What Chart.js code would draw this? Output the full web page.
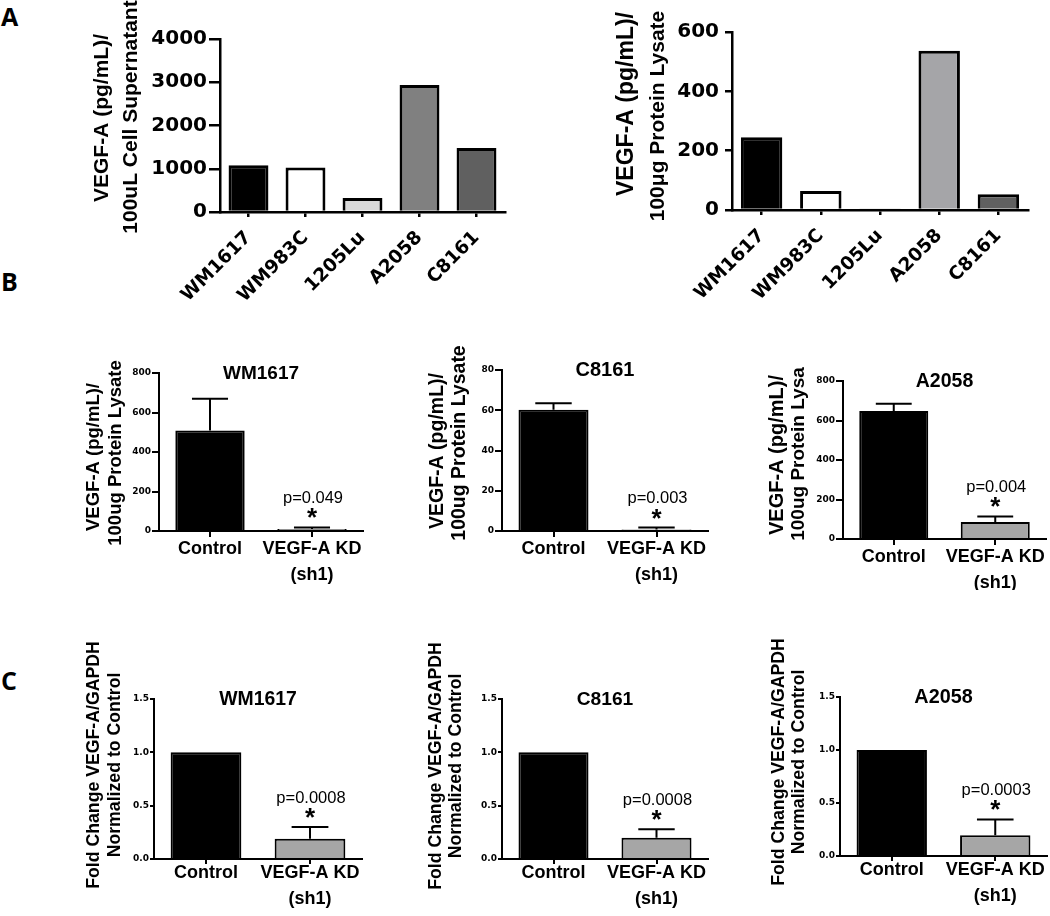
<!DOCTYPE html>
<html>
<head>
<meta charset="utf-8">
<script src="https://cdn.jsdelivr.net/npm/chart.js@4.4.1/dist/chart.umd.min.js"></script>
<style>
  body { margin: 0; width: 1050px; height: 916px; background: #fff; position: relative; overflow: hidden; }
  .box { position: absolute; }
  .box canvas { display: block; }
  .letter { position: absolute; font: 700 25px/25px "Open Sans", sans-serif; color: #000; }
</style>
</head>
<body>
<div class="letter" style="left:1px;top:4px">A</div>
<div class="letter" style="left:1px;top:269px">B</div>
<div class="letter" style="left:1px;top:668px">C</div>

<script>
// Panel A: VEGF-A secreted / in lysate for the five cell lines
const cellLines = ['WM1617', 'WM983C', '1205Lu', 'A2058', 'C8161'];
const supernatantValues = [1080, 1030, 325, 2935, 1480];
const lysateValues = [245, 64, 5, 537, 53];
const supernatantTicks = [0, 1000, 2000, 3000, 4000];
const lysateTicks = [0, 200, 400, 600];

// Panels B and C: control vs knockdown
const groups = ['Control', ['VEGF-A KD', '(sh1)']];
const wm1617Protein = [509, 10];
const wm1617ProteinErr = [161, 8];
const c8161Protein = [60.3, 0.8];
const c8161ProteinErr = [3.2, 0.9];
const a2058Protein = [648, 86];
const a2058ProteinErr = [37, 28];
const proteinTicks800 = [0, 200, 400, 600, 800];
const proteinTicks80 = [0, 20, 40, 60, 80];
const proteinPValues = ['p=0.049', 'p=0.003', 'p=0.004'];

const wm1617Fold = [1.0, 0.19];
const wm1617FoldErr = [0, 0.11];
const c8161Fold = [1.0, 0.2];
const c8161FoldErr = [0, 0.08];
const a2058Fold = [1.0, 0.195];
const a2058FoldErr = [0, 0.15];
const foldTicks = [0, 0.5, 1.0, 1.5];
const foldPValues = ['p=0.0008', 'p=0.0008', 'p=0.0003'];

Chart.defaults.font.family = '"Liberation Sans", Arial, sans-serif';
Chart.defaults.color = '#000';

// text centred on its real glyph box
function centerText(ctx, text, x, cy, font) {
  ctx.font = font;
  const m = ctx.measureText(text);
  ctx.textAlign = 'center';
  ctx.textBaseline = 'alphabetic';
  ctx.fillText(text, x, cy + (m.actualBoundingBoxAscent - m.actualBoundingBoxDescent) / 2);
}

const marks = {
  id: 'marks',
  afterDatasetsDraw(chart, args, o) {
    const ctx = chart.ctx;
    const area = chart.chartArea;
    const y = chart.scales.y;
    const bars = chart.getDatasetMeta(0).data;
    const vals = chart.data.datasets[0].data;
    ctx.save();
    ctx.fillStyle = '#000';
    ctx.strokeStyle = '#000';

    if (o.errors) {
      ctx.lineWidth = 2;
      o.errors.forEach((e, i) => {
        if (!e) return;
        const b = bars[i];
        const top = y.getPixelForValue(vals[i] + e);
        const hw = b.width * 0.26;
        ctx.beginPath();
        ctx.moveTo(b.x, b.y);
        ctx.lineTo(b.x, top);
        ctx.moveTo(b.x - hw, top);
        ctx.lineTo(b.x + hw, top);
        ctx.stroke();
      });
      // p value and asterisk over the knockdown bar
      const kd = bars[1];
      const top = y.getPixelForValue(vals[1] + o.errors[1]);
      centerText(ctx, o.p, kd.x + 1, top - 29, '16.5px "Liberation Sans"');
      centerText(ctx, '*', kd.x, top - 14, 'bold 26px "Liberation Sans"');
    }

    if (o.title) {
      centerText(ctx, o.title, (area.left + area.right) / 2, area.top - 1, 'bold ' + o.titleSize + 'px "Liberation Sans"');
    }

    (o.yTitle || []).forEach(t => {
      ctx.save();
      ctx.translate(t.x - o.ox, t.cy - o.oy);
      ctx.rotate(-Math.PI / 2);
      ctx.font = 'bold ' + t.size + 'px "Liberation Sans"';
      ctx.textAlign = 'center';
      ctx.textBaseline = 'middle';
      ctx.fillText(t.text, 0, 0);
      ctx.restore();
    });
    ctx.restore();
  }
};

function panel(p) {
  const [bx, by, bw, bh] = p.box;
  const [l, t, r, b] = p.area;
  const div = document.createElement('div');
  div.className = 'box';
  div.style.left = bx + 'px';
  div.style.top = by + 'px';
  div.style.width = bw + 'px';
  div.style.height = bh + 'px';
  const cv = document.createElement('canvas');
  div.appendChild(cv);
  document.body.appendChild(div);

  new Chart(cv, {
    type: 'bar',
    data: {
      labels: p.labels,
      datasets: [{
        data: p.values,
        backgroundColor: p.colors,
        borderColor: '#000',
        borderWidth: p.barBorder,
        borderSkipped: 'start',
        barPercentage: p.barPct,
        categoryPercentage: 1
      }]
    },
    options: {
      responsive: true,
      maintainAspectRatio: false,
      animation: false,
      devicePixelRatio: 1,
      layout: { padding: { left: 0, top: t - by, right: bx + bw - r, bottom: 0 } },
      plugins: {
        legend: { display: false },
        tooltip: { enabled: false },
        marks: {
          errors: p.errors, p: p.p, title: p.title, titleSize: p.titleSize,
          yTitle: p.yTitle, ox: bx, oy: by
        }
      },
      scales: {
        x: {
          grid: { drawOnChartArea: false, drawTicks: true, tickLength: p.xLen, color: '#000', lineWidth: p.axisW, offset: false },
          border: { display: true, color: '#000', width: p.axisW },
          ticks: { color: '#000', font: p.xFont, padding: p.xPad, minRotation: p.rot, maxRotation: p.rot, autoSkip: false },
          afterFit: s => { s.height = by + bh - b; s.paddingLeft = 0; s.paddingRight = 0; }
        },
        y: {
          min: p.ticks[0],
          max: p.ticks[p.ticks.length - 1],
          afterBuildTicks: s => { s.ticks = p.ticks.map(v => ({ value: v })); },
          grid: { drawOnChartArea: false, drawTicks: true, tickLength: p.yLen, color: '#000', lineWidth: p.axisW },
          border: { display: true, color: '#000', width: p.axisW },
          ticks: { color: '#000', font: p.yFont, padding: p.yPad, callback: p.fmt || (v => v) },
          afterFit: s => { s.width = l - bx; s.paddingTop = 0; s.paddingBottom = 0; }
        }
      }
    },
    plugins: [marks]
  });
}

const aStyle = {
  yFont: { family: 'DejaVu Sans', weight: 'bold', size: 20 },
  xFont: { family: 'DejaVu Sans', weight: 'bold', size: 18.5 },
  xLen: 5, xPad: 10, rot: 45, axisW: 2.5, barBorder: 3, barPct: 0.7
};
const bStyle = {
  yFont: { family: 'DejaVu Sans', weight: 'bold', size: 9 },
  xFont: { family: 'Liberation Sans', weight: 'bold', size: 18, lineHeight: 1.44 },
  yLen: 7, yPad: 1, xLen: 6, xPad: -1, rot: 0, axisW: 2, barBorder: 2, barPct: 0.68
};
const cStyle = Object.assign({}, bStyle, { yLen: 4, xLen: 5, xPad: -4, fmt: v => v.toFixed(1) });
const kdColors = ['#000000', '#a6a6a6'];

panel(Object.assign({}, aStyle, {
  box: [70, 0, 445, 300], area: [220, 39, 505, 212],
  labels: cellLines, values: supernatantValues, ticks: supernatantTicks,
  colors: ['#000000', '#ffffff', '#d9d9d9', '#808080', '#606060'],
  yLen: 11, yPad: 2,
  yTitle: [
    { text: 'VEGF-A (pg/mL)/', x: 102, cy: 118, size: 21 },
    { text: '100uL Cell Supernatant', x: 131, cy: 117, size: 21 }
  ]
}));

panel(Object.assign({}, aStyle, {
  box: [590, 0, 455, 300], area: [732, 32, 1028, 210],
  labels: cellLines, values: lysateValues, ticks: lysateTicks,
  colors: ['#000000', '#ffffff', '#d9d9d9', '#a5a5a8', '#606060'],
  yLen: 7, yPad: 6,
  yTitle: [
    { text: 'VEGF-A (pg/mL)/', x: 627, cy: 104, size: 23 },
    { text: '100μg Protein Lysate', x: 658, cy: 116, size: 21 }
  ]
}));

panel(Object.assign({}, bStyle, {
  box: [60, 330, 315, 260], area: [159, 373, 363, 531],
  labels: groups, values: wm1617Protein, errors: wm1617ProteinErr, ticks: proteinTicks800,
  colors: kdColors, p: proteinPValues[0], title: 'WM1617', titleSize: 19,
  yTitle: [
    { text: 'VEGF-A (pg/mL)/', x: 94, cy: 457, size: 18.5 },
    { text: '100ug Protein Lysate', x: 116, cy: 453, size: 18.5 }
  ]
}));

panel(Object.assign({}, bStyle, {
  box: [400, 330, 320, 260], area: [502, 370, 708, 531],
  labels: groups, values: c8161Protein, errors: c8161ProteinErr, ticks: proteinTicks80,
  colors: kdColors, p: proteinPValues[1], title: 'C8161', titleSize: 20,
  yTitle: [
    { text: 'VEGF-A (pg/mL)/', x: 438, cy: 451, size: 19.5 },
    { text: '100ug Protein Lysate', x: 460, cy: 443, size: 19.5 }
  ]
}));

panel(Object.assign({}, bStyle, {
  box: [740, 330, 310, 260], area: [843, 381, 1046, 539],
  labels: groups, values: a2058Protein, errors: a2058ProteinErr, ticks: proteinTicks800,
  colors: kdColors, p: proteinPValues[2], title: 'A2058', titleSize: 19.5,
  yTitle: [
    { text: 'VEGF-A (pg/mL)/', x: 777, cy: 455, size: 20 },
    { text: '100ug Protein Lysa', x: 799, cy: 454, size: 19 }
  ]
}));

panel(Object.assign({}, cStyle, {
  box: [60, 620, 315, 296], area: [154, 699, 362, 859],
  labels: groups, values: wm1617Fold, errors: wm1617FoldErr, ticks: foldTicks,
  colors: kdColors, p: foldPValues[0], title: 'WM1617', titleSize: 19.4,
  yTitle: [
    { text: 'Fold Change VEGF-A/GAPDH', x: 94, cy: 765, size: 17.7 },
    { text: 'Normalized to Control', x: 115, cy: 765, size: 17.7 }
  ]
}));

panel(Object.assign({}, cStyle, {
  box: [400, 620, 320, 296], area: [502, 699, 708, 859],
  labels: groups, values: c8161Fold, errors: c8161FoldErr, ticks: foldTicks,
  colors: kdColors, p: foldPValues[1], title: 'C8161', titleSize: 19.2,
  yTitle: [
    { text: 'Fold Change VEGF-A/GAPDH', x: 436, cy: 766, size: 17.7 },
    { text: 'Normalized to Control', x: 456, cy: 766, size: 17.7 }
  ]
}));

panel(Object.assign({}, cStyle, {
  box: [740, 620, 310, 296], area: [840, 697, 1047, 856],
  labels: groups, values: a2058Fold, errors: a2058FoldErr, ticks: foldTicks,
  colors: kdColors, p: foldPValues[2], title: 'A2058', titleSize: 19.8,
  yTitle: [
    { text: 'Fold Change VEGF-A/GAPDH', x: 779, cy: 762, size: 17.7 },
    { text: 'Normalized to Control', x: 799, cy: 762, size: 17.7 }
  ]
}));
</script>
</body>
</html>
